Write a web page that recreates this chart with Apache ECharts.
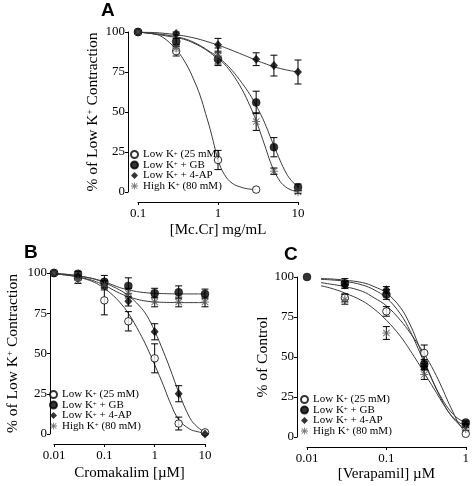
<!DOCTYPE html>
<html><head><meta charset="utf-8">
<script src="https://cdn.jsdelivr.net/npm/echarts@6/dist/echarts.min.js"></script>
<style>html,body{margin:0;padding:0;background:#fff}#c{width:472px;height:486px}</style>
</head><body><div id="c"></div>
<script>
// ---------- shared ----------
const seriesNames = ['Low K+ (25 mM)', 'Low K+ + GB', 'Low K+ + 4-AP', 'High K+ (80 mM)'];
const yTicks = [0, 25, 50, 75, 100];

// ---------- Panel A : [Mc.Cr] mg/mL ----------
const xA = [0.1, 0.3, 1, 3, 5, 10];
const aLow25 = [100, 88, 20, 1.5, null, null];
const aLow25Err = [0, 3, 6, 0, 0, 0];
const aGB = [100, 94, 83, 56, 28, 3];
const aGBErr = [0, 2, 4, 7, 6, 2];
const a4AP = [100, 99, 92, 83, 79, 75];
const a4APErr = [0, 1, 4, 4, 6.5, 7.5];
const aHighK = [100, 90, 85, 44, 13, 0];
const aHighKErr = [0, 2, 5, 5.5, 2, 1];
// fitted curves
const curveXA = [0.1, 0.15, 0.2, 0.3, 0.4, 0.5, 0.6, 0.7, 0.8, 0.9, 1, 1.2, 1.5, 2, 2.5, 3, 3.5, 4, 4.5, 5, 6, 7, 8, 10];
const curveALow25 = [100, 99, 97, 89, 80, 70, 60, 49, 39, 29, 20, 11, 5.5, 2.8, 1.8, 1.5, null, null, null, null, null, null, null, null];
const curveAGB = [100, 99, 98.5, 97, 95.5, 93.5, 91.5, 89.5, 87.5, 86, 84, 81, 76, 68, 61, 54, 47.5, 41, 34.5, 29, 19.5, 12.5, 8, 3];
const curveA4AP = [100, 99.7, 99.3, 98.3, 97.3, 96.3, 95.3, 94.3, 93.4, 92.6, 91.8, 90.4, 88.5, 86, 84, 82.3, 81, 80, 79, 78.2, 77.2, 76.4, 75.8, 75];
const curveAHighK = [100, 99, 98, 96.5, 95, 93, 91, 89, 87, 85, 83.5, 80, 74, 64, 54, 44.5, 35, 26.5, 19, 13.5, 6.5, 3.2, 1.5, 0];

// ---------- Panel B : Cromakalim [uM] ----------
const xB = [0.01, 0.03, 0.1, 0.3, 1, 3, 10];
const bLow25 = [100, 97, 83, 70, 47, 6.5, 1];
const bLow25Err = [0, 1, 9, 6, 9, 4, 0];
const bGB = [100, 99.5, 94.5, 92, 87.5, 88, 87];
const bGBErr = [0, 1.5, 4, 5, 3, 4, 3];
const b4AP = [100, 97, 93, 82.5, 63.5, 25, 0];
const b4APErr = [0, 1, 2, 3, 5, 5, 0];
const bHighK = [100, 95.5, 92.5, 87.5, 82, 82, 82];
const bHighKErr = [0, 2, 3, 3, 3, 3, 3];
const curveXB = [0.01, 0.02, 0.03, 0.05, 0.07, 0.1, 0.15, 0.2, 0.3, 0.5, 0.7, 1, 1.5, 2, 3, 5, 7, 10];
const curveBLow25 = [99.5, 98.5, 97.5, 95.5, 93.5, 90.5, 86, 82, 75, 63, 54, 43, 30, 20, 9, 3, 1.5, 0.5];
const curveB4AP = [99.7, 99, 98.2, 97, 95.8, 94, 91.5, 89.5, 86, 79.5, 73.5, 64, 51, 41, 26, 10, 4.5, 1];
const curveBGB = [99.7, 99, 98.3, 97, 96, 94.5, 92.5, 91, 89.5, 88.2, 87.7, 87.4, 87.2, 87.1, 87, 87, 87, 87];
const curveBHighK = [99.5, 98.5, 97.5, 96, 94.5, 92.5, 89.5, 87.5, 85.3, 83.3, 82.5, 82, 81.8, 81.7, 81.6, 81.6, 81.6, 81.6];

// ---------- Panel C : [Verapamil] uM ----------
const xC = [0.01, 0.03, 0.1, 0.3, 1];
const cLow25 = [null, 87, 78.5, 52.5, 2];
const cLow25Err = [0, 2.5, 3, 5, 0];
const cGB = [100, 96, 89, 45.5, 9];
const cGBErr = [0, 3, 3, 3, 1];
const c4AP = [null, 95, 92, 44, 7.5];
const c4APErr = [0, 2, 2, 2, 1];
const cHighK = [null, 86, 65, 39, 5];
const cHighKErr = [0, 3, 4, 3, 1];
const curveXC = [0.015, 0.02, 0.03, 0.05, 0.07, 0.1, 0.15, 0.2, 0.25, 0.3, 0.4, 0.5, 0.6, 0.7, 0.8, 0.9, 1];
const curveCLow25 = [96.5, 95.5, 94, 91, 87, 82, 73, 65, 58, 52, 41, 31, 22, 15, 9, 5.5, 3];
const curveCGB = [98.5, 98.2, 97.3, 95, 92, 87, 77, 66, 55.5, 46.5, 33, 24, 18, 14, 11.5, 10, 9];
const curveC4AP = [99, 98.8, 98, 96.5, 94, 90, 81, 70, 58.5, 48, 33, 23, 16, 12, 9.5, 8, 7];
const curveCHighK = [94.5, 93, 90, 85, 80, 73, 63, 54, 46.5, 40, 30, 22, 16, 11.5, 8.5, 6.5, 5];

// ---------- styling ----------
const SERIF = '"Liberation Serif", "Times New Roman", serif';
const ASTERISK = 'path://M4.4 0 H5.6 V10 H4.4 Z M0 4.4 H10 V5.6 H0 Z M0.6 1.45 L1.45 0.6 L9.4 8.55 L8.55 9.4 Z M8.55 0.6 L9.4 1.45 L1.45 9.4 L0.6 8.55 Z';
const markerStyles = [
  { symbol: 'circle', symbolSize: 7.5, itemStyle: { color: '#fff', borderColor: '#000', borderWidth: 1 } },
  { symbol: 'circle', symbolSize: 8, itemStyle: { color: '#000', borderColor: '#000', borderWidth: 0.5 } },
  { symbol: 'diamond', symbolSize: [8, 9], itemStyle: { color: '#000', borderColor: '#000', borderWidth: 0 } },
  { symbol: ASTERISK, symbolSize: 8, itemStyle: { color: '#555', borderColor: '#555', borderWidth: 0 } }
];
const supRich = { sup: { fontSize: 7, verticalAlign: 'top', lineHeight: 8, fontFamily: SERIF, color: '#000' } };
const supText = s => s.replace(/K\+/g, 'K{sup|+}');

function pairs(xs, ys) {
  const out = [];
  xs.forEach((x, i) => { if (ys[i] !== null && ys[i] !== undefined) out.push([x, ys[i]]); });
  return out;
}
function errTriples(xs, ys, es) {
  const out = [];
  xs.forEach((x, i) => { if (ys[i] !== null && es[i] > 0) out.push([x, ys[i], es[i]]); });
  return out;
}

const panels = [
  { x: xA, ys: [aLow25, aGB, a4AP, aHighK], es: [aLow25Err, aGBErr, a4APErr, aHighKErr],
    cx: curveXA, cs: [curveALow25, curveAGB, curveA4AP, curveAHighK] },
  { x: xB, ys: [bLow25, bGB, b4AP, bHighK], es: [bLow25Err, bGBErr, b4APErr, bHighKErr],
    cx: curveXB, cs: [curveBLow25, curveBGB, curveB4AP, curveBHighK] },
  { x: xC, ys: [cLow25, cGB, c4AP, cHighK], es: [cLow25Err, cGBErr, c4APErr, cHighKErr],
    cx: curveXC, cs: [curveCLow25, curveCGB, curveC4AP, curveCHighK] }
];

const series = [];
panels.forEach((p, pi) => {
  p.cs.forEach((c, si) => {
    series.push({
      type: 'line', xAxisIndex: pi, yAxisIndex: pi, data: pairs(p.cx, c),
      smooth: 0.4, showSymbol: false, silent: true, z: 1,
      lineStyle: { color: '#3a3a3a', width: 1 }
    });
  });
  p.ys.forEach((ys, si) => {
    series.push({
      type: 'custom', xAxisIndex: pi, yAxisIndex: pi, z: 2, silent: true,
      data: errTriples(p.x, ys, p.es[si]),
      renderItem: function (params, api) {
        const x = api.value(0), y = api.value(1), e = api.value(2);
        const t = api.coord([x, y + e]);
        const b = api.coord([x, y - e]);
        const w = 3.5;
        const st = { stroke: '#000', lineWidth: 1 };
        return { type: 'group', children: [
          { type: 'line', shape: { x1: t[0], y1: t[1], x2: b[0], y2: b[1] }, style: st },
          { type: 'line', shape: { x1: t[0] - w, y1: t[1], x2: t[0] + w, y2: t[1] }, style: st },
          { type: 'line', shape: { x1: b[0] - w, y1: b[1], x2: b[0] + w, y2: b[1] }, style: st }
        ] };
      }
    });
  });
  p.ys.forEach((ys, si) => {
    const m = markerStyles[si];
    series.push({
      type: 'scatter', name: seriesNames[si], xAxisIndex: pi, yAxisIndex: pi, z: 3 + si,
      data: pairs(p.x, ys), symbol: m.symbol, symbolSize: m.symbolSize, itemStyle: m.itemStyle
    });
  });
});

const grids = [
  { left: 138, top: 32, width: 160, height: 160 },
  { left: 54, top: 273, width: 151, height: 161 },
  { left: 307, top: 277, width: 160, height: 160 }
];
const xRanges = [[0.1, 10], [0.01, 10], [0.01, 1]];
const xNames = ['[Mc.Cr] mg/mL', 'Cromakalim [\u00b5M]', '[Verapamil] \u00b5M'];
const yNames = ['% of Low K{sup|+} Contraction', '% of Low K{sup|+} Contraction', '% of Control'];
const yOffsets = [10, 4, 10];
const yNameGaps = [27, 29, 26];
const xNameGaps = [21, 22, 20];

const axisLine = { show: true, onZero: false, lineStyle: { color: '#000', width: 1 } };
const axisTick = { show: true, inside: false, length: 3, lineStyle: { color: '#000', width: 1 } };

const xAxis = grids.map((g, i) => ({
  type: 'log', logBase: 10, gridIndex: i, min: xRanges[i][0], max: xRanges[i][1],
  offset: 10, axisLine, axisTick, splitLine: { show: false }, minorTick: { show: false },
  axisLabel: { color: '#000', fontFamily: SERIF, fontSize: 13, margin: 5,
    formatter: v => String(+Number(v).toPrecision(3)) },
  name: xNames[i], nameLocation: 'middle', nameGap: xNameGaps[i],
  nameTextStyle: { color: '#000', fontFamily: SERIF, fontSize: 15 }
}));
const yAxis = grids.map((g, i) => ({
  type: 'value', gridIndex: i, min: 0, max: 100, interval: 25, offset: yOffsets[i],
  axisLine, axisTick, splitLine: { show: false },
  axisLabel: { color: '#000', fontFamily: SERIF, fontSize: 13, margin: 3 },
  name: yNames[i], nameLocation: 'middle', nameGap: yNameGaps[i],
  nameTextStyle: { color: '#000', fontFamily: SERIF, fontSize: 15.5, rich: { sup: { fontSize: 9, verticalAlign: 'top', lineHeight: 10, fontFamily: SERIF, color: '#000' } } }
}));

const legendPos = [[130, 149], [49, 389], [300, 394]];
const legend = legendPos.map(pos => ({
  left: pos[0], top: pos[1], orient: 'vertical', data: seriesNames, selectedMode: false,
  padding: 0, itemWidth: 7, itemHeight: 7, itemGap: -0.5,
  formatter: name => supText(name),
  textStyle: { color: '#000', fontFamily: SERIF, fontSize: 11, lineHeight: 8, rich: supRich }
}));

const letterFont = 'bold 19px "Liberation Sans", Arial, sans-serif';
const graphic = [
  { type: 'text', left: 101, top: 1, style: { text: 'A', font: letterFont, fill: '#000' } },
  { type: 'text', left: 24, top: 243, style: { text: 'B', font: letterFont, fill: '#000' } },
  { type: 'text', left: 284, top: 245, style: { text: 'C', font: letterFont, fill: '#000' } }
];

const chart = echarts.init(document.getElementById('c'), null, { renderer: 'canvas' });
chart.setOption({
  backgroundColor: '#fff', animation: false,
  grid: grids, xAxis, yAxis, legend, graphic, series
});
</script></body></html>
